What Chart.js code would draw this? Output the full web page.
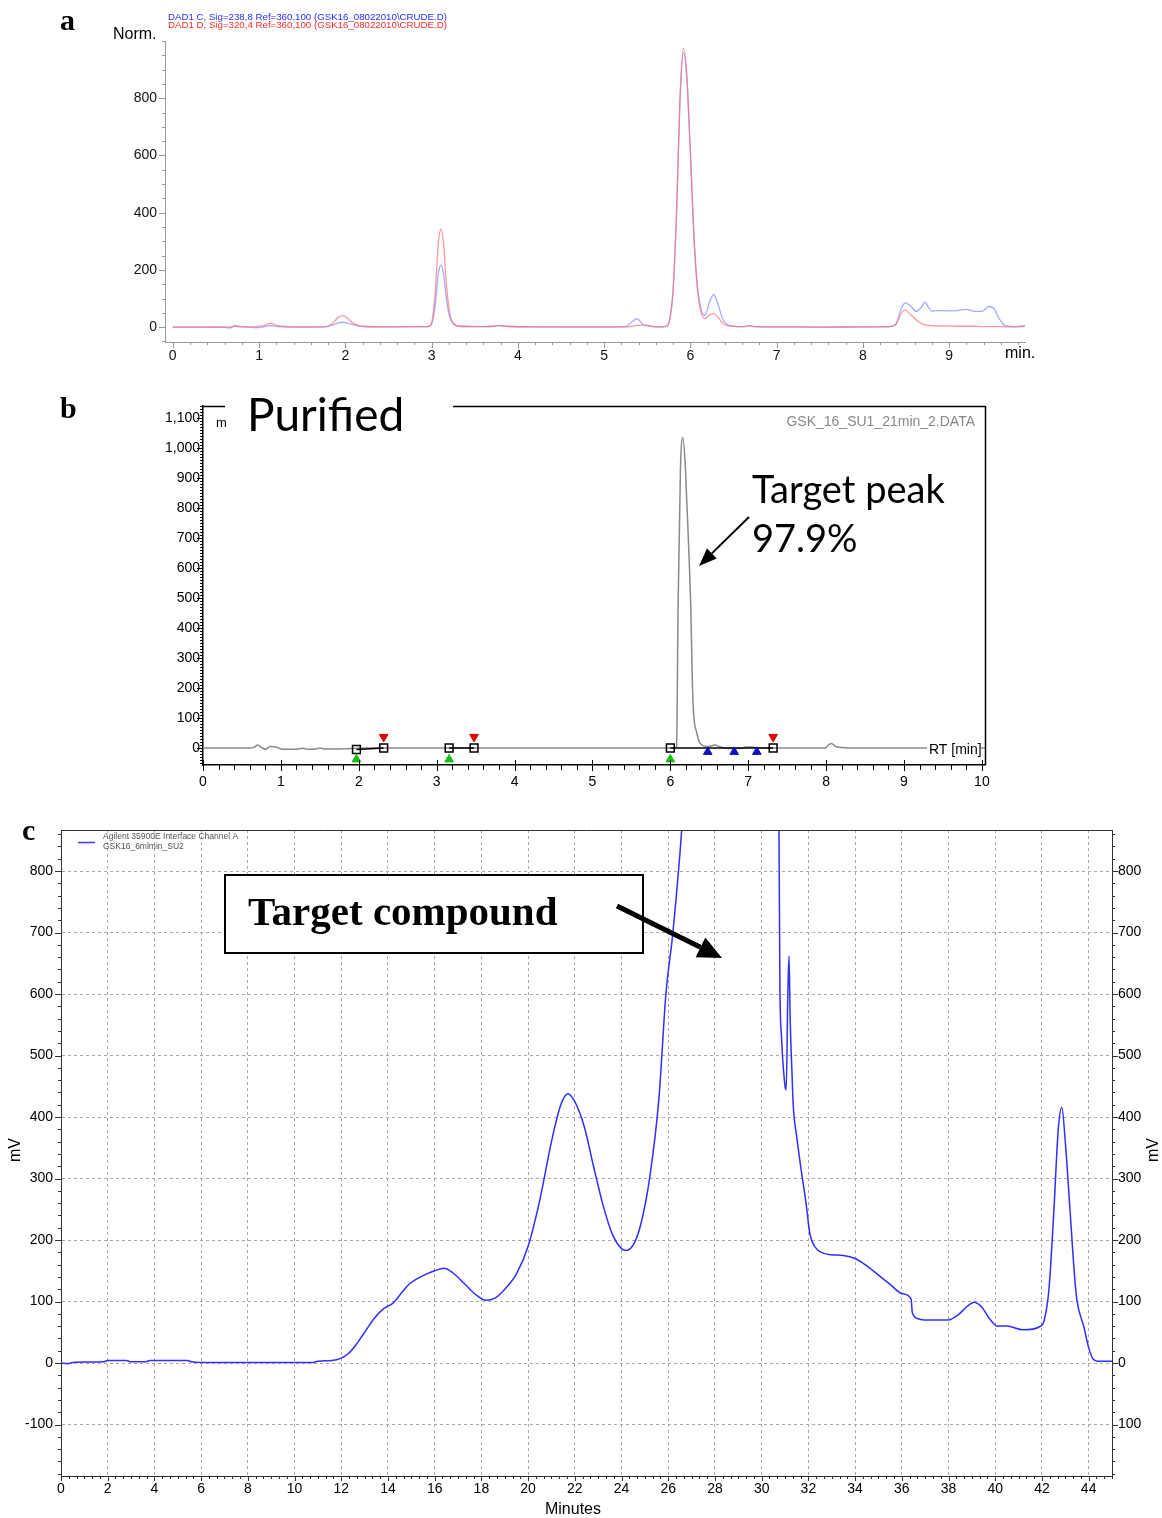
<!DOCTYPE html>
<html>
<head>
<meta charset="utf-8">
<title>Chromatograms</title>
<script src="https://cdn.jsdelivr.net/npm/chart.js@4.4.1/dist/chart.umd.min.js"></script>
<style>
  html, body { margin: 0; padding: 0; background: #fff; }
  body { width: 1162px; height: 1518px; position: relative; overflow: hidden; }
  canvas { position: absolute; left: 0; }
  #chA { top: 0; }
  #chB { top: 372px; }
  #chC { top: 800px; }
</style>
</head>
<body>
<canvas id="chA" width="1162" height="372"></canvas>
<canvas id="chB" width="1162" height="428"></canvas>
<canvas id="chC" width="1162" height="718"></canvas>
<script>
// ---- panel a: crude, two DAD signals (normalised) ----
const A_TIME = [0, 0.3, 0.6, 0.66, 0.72, 0.8, 0.95, 1.05, 1.13, 1.22,
  1.4, 1.75, 1.85, 1.92, 1.97, 2.03, 2.1, 2.2, 2.5, 2.96,
  3.0, 3.04, 3.08, 3.11, 3.14, 3.17, 3.21, 3.26, 3.32, 3.6,
  3.72, 3.78, 3.85, 4.2, 4.8, 5.25, 5.32, 5.38, 5.45, 5.52,
  5.62, 5.72, 5.76, 5.80, 5.84, 5.88, 5.92, 5.96, 6.00, 6.04,
  6.08, 6.12, 6.17, 6.22, 6.27, 6.32, 6.38, 6.45, 6.55, 6.63,
  6.68, 6.74, 7.0, 7.5, 8.0, 8.3, 8.38, 8.44, 8.49, 8.55,
  8.62, 8.68, 8.72, 8.76, 8.8, 8.85, 9.0, 9.1, 9.2, 9.3,
  9.38, 9.46, 9.52, 9.58, 9.65, 9.75, 9.88];
const A_RED = [0, 0, 1, 0, 3, 1, 1, 5, 13, 5,
  1, 1, 12, 35, 40, 30, 12, 3, 1, 2,
  15, 110, 300, 342, 290, 160, 50, 12, 3, 2,
  3, 6, 3, 1, 0, 1, 3, 6, 7, 4,
  1, 3, 25, 130, 400, 800, 975, 880, 620, 330,
  140, 55, 30, 42, 48, 35, 12, 4, 2, 2,
  5, 2, 1, 0, 1, 1, 8, 45, 60, 45,
  25, 12, 8, 6, 5, 4, 4, 3, 3, 3,
  2, 2, 2, 2, 1, 1, 3];
const A_BLUE = [0, 0, -1, -3, 5, 2, -2, 1, 5, 2,
  0, 1, 7, 15, 17, 14, 8, 2, 1, 2,
  10, 70, 190, 217, 185, 105, 35, 9, 3, 2,
  3, 5, 3, 1, 1, 2, 18, 30, 10, 5,
  1, 3, 24, 127, 392, 785, 960, 865, 610, 330,
  150, 70, 40, 85, 114, 80, 25, 6, 2, 2,
  5, 2, 1, 0, 1, 2, 10, 60, 85, 75,
  55, 70, 87, 70, 55, 58, 57, 58, 62, 55,
  55, 72, 65, 30, 5, 2, 5];
const A_XTICKS = [0, 1, 2, 3, 4, 5, 6, 7, 8, 9];
const A_YTICKS = [0, 200, 400, 600, 800];
const A_LEGEND = ['DAD1 C, Sig=238,8 Ref=360,100 (GSK16_08022010\\CRUDE.D)',
                  'DAD1 D, Sig=320,4 Ref=360,100 (GSK16_08022010\\CRUDE.D)'];

// ---- panel b: purified ----
const B_TIME = [0, 0.6, 0.66, 0.7, 0.75, 0.8, 0.86, 0.92, 0.97, 1.02,
  1.2, 1.28, 1.34, 1.45, 1.5, 1.56, 1.7, 1.9, 2.1, 3.0,
  4.0, 5.0, 6.0, 6.06, 6.08, 6.10, 6.13, 6.16, 6.19, 6.21,
  6.26, 6.29, 6.34, 6.42, 6.5, 6.57, 6.65, 6.75, 6.9, 6.97,
  7.05, 7.1, 7.5, 7.99, 8.03, 8.07, 8.12, 8.2, 8.4, 9.0,
  10.04];
const B_SIGNAL = [0, 0, 3, 10, 2, -4, 5, 4, 0, -4,
  -4, -1, -4, -3, 0, -3, -3, -2, 0, 0,
  0, 0, 0, 0, 5, 480, 930, 1035, 950, 830,
  490, 160, 50, 8, 5, 10, 3, -2, -2, 3,
  3, 0, 0, 0, 10, 15, 5, 2, 0, 0,
  0];
// integration baselines (start / end squares) and event markers
const B_START_X = [1.97, 3.16, 6.0];
const B_START_Y = [-5, 0, 0];
const B_END_X = [2.32, 3.48, 7.32];
const B_END_Y = [0, 0, 0];
const B_DROP_X = [6.48, 6.82, 7.11];
const B_XTICKS = [0, 1, 2, 3, 4, 5, 6, 7, 8, 9, 10];
const B_YTICKS = [0, 100, 200, 300, 400, 500, 600, 700, 800, 900, 1000, 1100];

// ---- panel c: prep run ----
const C_TIME = [0, 0.3, 0.5, 1.8, 2.0, 2.8, 3.0, 3.6, 3.8, 5.4,
  5.6, 6.0, 8.0, 10.0, 10.8, 11.0, 11.6, 12.0, 12.3, 12.6,
  13.0, 13.4, 13.8, 14.2, 14.6, 14.9, 15.5, 16.0, 16.4, 16.8,
  17.3, 17.8, 18.2, 18.6, 19.0, 19.5, 20.0, 20.5, 21.0, 21.4,
  21.7, 22.0, 22.4, 22.8, 23.2, 23.6, 24.0, 24.2, 24.5, 24.8,
  25.2, 25.6, 25.9, 26.2, 26.6, 27.0, 28.0, 29.0, 30.0, 30.5,
  30.74, 30.78, 30.85, 31.0, 31.05, 31.12, 31.17, 31.22, 31.3, 31.35,
  31.5, 31.68, 31.9, 32.06, 32.3, 32.6, 33.0, 33.5, 34.0, 34.5,
  35.0, 35.5, 36.0, 36.4, 36.45, 36.7, 37.0, 37.5, 38.0, 38.4,
  38.8, 39.1, 39.4, 39.8, 40.1, 40.5, 41.2, 41.9, 42.1, 42.3,
  42.5, 42.7, 42.85, 43.0, 43.2, 43.4, 43.5, 43.8, 44.0, 44.2,
  44.4, 45.0];
const C_MV = [0, -1, 1, 2, 4, 4, 2, 2, 4, 4,
  2, 1, 1, 1, 1, 3, 4, 8, 15, 28,
  50, 72, 88, 97, 115, 128, 142, 150, 154, 146,
  128, 110, 102, 106, 120, 145, 190, 265, 360, 420,
  438, 425, 385, 320, 258, 210, 186, 183, 192, 222,
  300, 430, 600, 700, 880, 1150, 1700, 1800, 1500, 1100,
  870, 618, 530, 450, 444, 600, 662, 560, 470, 420,
  368, 317, 260, 211, 188, 179, 176, 175, 170, 158,
  143, 128, 113, 104, 82, 72, 70, 70, 70, 78,
  92, 99, 92, 70, 60, 60, 54, 59, 70, 120,
  240, 380, 416, 360, 250, 140, 102, 58, 25, 6,
  3, 3];
const C_XTICKS = [0, 2, 4, 6, 8, 10, 12, 14, 16, 18, 20, 22, 24, 26, 28, 30, 32, 34, 36, 38, 40, 42, 44];
const C_YTICKS = [-100, 0, 100, 200, 300, 400, 500, 600, 700, 800];
const C_LEGEND = ['Agilent 35900E Interface Channel A', 'GSK16_6mlmin_SU2'];

const SANS = "'Liberation Sans', Arial, sans-serif";
const SERIF = "'Liberation Serif', 'Times New Roman', serif";
const CALI = "Lato, 'Open Sans', sans-serif";
Chart.defaults.font.family = SANS;

// helpers
function pts(xs, ys) { return xs.map((x, i) => ({ x, y: ys[i] })); }
function fixedTicks(vals) { return function (s) { s.ticks = vals.map(v => ({ value: v })); }; }
function steps(min, max, step) {
  const out = [];
  for (let i = Math.ceil(min / step - 1e-9); i * step <= max + 1e-9; i++) out.push(i * step);
  return out;
}
function marks(chart, id, vals, len, color, up) {
  const s = chart.scales[id], ctx = chart.ctx;
  ctx.save(); ctx.strokeStyle = color; ctx.lineWidth = 1; ctx.beginPath();
  vals.forEach(v => {
    if (v < s.min || v > s.max) return;
    const p = Math.round(s.getPixelForValue(v)) + 0.5;
    if (s.isHorizontal()) { ctx.moveTo(p, s.top - (up || 0)); ctx.lineTo(p, s.top + len); }
    else if (s.position === 'left') { ctx.moveTo(s.right + (up || 0), p); ctx.lineTo(s.right - len, p); }
    else { ctx.moveTo(s.left - (up || 0), p); ctx.lineTo(s.left + len, p); }
  });
  ctx.stroke(); ctx.restore();
}
function txt(ctx, s, x, y, font, color, align, base) {
  ctx.font = font; ctx.fillStyle = color || '#000';
  ctx.textAlign = align || 'left'; ctx.textBaseline = base || 'middle';
  ctx.fillText(s, x, y);
}
function arrow(ctx, x0, y0, x1, y1, lw, head, hw) {
  const a = Math.atan2(y1 - y0, x1 - x0);
  const bx = x1 - head * Math.cos(a), by = y1 - head * Math.sin(a);
  ctx.save(); ctx.strokeStyle = '#000'; ctx.fillStyle = '#000'; ctx.lineWidth = lw;
  ctx.beginPath(); ctx.moveTo(x0, y0); ctx.lineTo(bx, by); ctx.stroke();
  ctx.beginPath(); ctx.moveTo(x1, y1);
  ctx.lineTo(bx + hw * Math.sin(a), by - hw * Math.cos(a));
  ctx.lineTo(bx - hw * Math.sin(a), by + hw * Math.cos(a));
  ctx.closePath(); ctx.fill(); ctx.restore();
}
function line(ctx, x0, y0, x1, y1, color, lw) {
  ctx.save(); ctx.strokeStyle = color; ctx.lineWidth = lw || 1;
  ctx.beginPath(); ctx.moveTo(x0, y0); ctx.lineTo(x1, y1); ctx.stroke(); ctx.restore();
}
function tickFont(size) { return { family: SANS, size: size || 14 }; }
const noGrid = { display: false, drawTicks: false };
const trace = { pointRadius: 0, cubicInterpolationMode: 'monotone', fill: false };

// ========== A ==========
const panelA = {
  id: 'panelA',
  afterDraw(chart) {
    const ctx = chart.ctx;
    marks(chart, 'x', steps(-0.09, 9.88, 0.2), 3, '#999');
    marks(chart, 'x', A_XTICKS, 6, '#999');
    marks(chart, 'y', steps(-52, 1000, 50), 3, '#999');
    marks(chart, 'y', A_YTICKS, 6, '#999');
    txt(ctx, 'a', 60, 30, 'bold 30px ' + SERIF, '#000', 'left', 'alphabetic');
    txt(ctx, 'Norm.', 113, 35, '16px ' + SANS, '#000');
    txt(ctx, 'min.', 1005, 354, '16px ' + SANS, '#000');
    txt(ctx, A_LEGEND[0], 168, 17, '9.7px ' + SANS, '#2a2aff');
    txt(ctx, A_LEGEND[1], 168, 25.5, '9.7px ' + SANS, '#ff2a2a');
  }
};
new Chart(document.getElementById('chA'), {
  type: 'line',
  data: { datasets: [
    Object.assign({ label: 'DAD1 D', data: pts(A_TIME, A_RED), borderColor: 'rgba(255,110,120,0.7)', borderWidth: 1.3 }, trace),
    Object.assign({ label: 'DAD1 C', data: pts(A_TIME, A_BLUE), borderColor: 'rgba(120,125,255,0.65)', borderWidth: 1.3 }, trace)
  ]},
  options: {
    responsive: false, animation: false,
    layout: { padding: { left: 0, top: 41, right: 137, bottom: 0 } },
    plugins: { legend: { display: false }, tooltip: { enabled: false } },
    scales: {
      x: { type: 'linear', min: -0.09, max: 9.88, afterBuildTicks: fixedTicks(A_XTICKS), afterFit: s => { s.height = 30; },
           grid: noGrid, border: { display: true, color: '#999' },
           ticks: { font: tickFont(14), color: '#111', padding: 6, maxRotation: 0, autoSkip: false } },
      y: { type: 'linear', min: -52, max: 1000, afterBuildTicks: fixedTicks(A_YTICKS), afterFit: s => { s.width = 165; },
           grid: noGrid, border: { display: true, color: '#999' },
           ticks: { font: tickFont(14), color: '#111', padding: 8, autoSkip: false } }
    }
  },
  plugins: [panelA]
});

// ========== B ==========
const panelB = {
  id: 'panelB',
  afterDraw(chart) {
    const ctx = chart.ctx, a = chart.chartArea;
    marks(chart, 'x', steps(0, 10.04, 0.2), 5, '#000');
    marks(chart, 'x', B_XTICKS, 6, '#000', 5);
    marks(chart, 'y', steps(-50, 1140, 10), 3, '#000');
    marks(chart, 'y', B_YTICKS, 6, '#000');
    // frame: top with gap for the title, right side
    line(ctx, a.left, a.top + 0.5, 225, a.top + 0.5, '#000', 1.5);
    line(ctx, 453, a.top + 0.5, a.right, a.top + 0.5, '#000', 1.5);
    line(ctx, a.right + 0.5, a.top, a.right + 0.5, a.bottom, '#000', 1.5);
    txt(ctx, 'b', 60, 46, 'bold 30px ' + SERIF, '#000', 'left', 'alphabetic');
    txt(ctx, 'm', 216, 51, '13px ' + SANS, '#000');
    txt(ctx, 'Purified', 247, 59, '46px ' + CALI, '#000', 'left', 'alphabetic');
    txt(ctx, 'GSK_16_SU1_21min_2.DATA', 975, 50, '14px ' + SANS, '#888', 'right');
    txt(ctx, 'Target peak', 752, 131, '38px ' + CALI, '#000', 'left', 'alphabetic');
    txt(ctx, '97.9%', 752, 180, '38px ' + CALI, '#000', 'left', 'alphabetic');
    arrow(ctx, 749, 145, 699, 194, 2, 18, 7);
    ctx.fillStyle = '#fff'; ctx.fillRect(927, 369, 54, 18);
    txt(ctx, 'RT [min]', 929, 378, '14px ' + SANS, '#000');
  }
};
const bDatasets = [];
B_START_X.forEach((x, i) => {
  bDatasets.push({ data: [{ x, y: B_START_Y[i] }, { x: B_END_X[i], y: B_END_Y[i] }],
    borderColor: '#000', borderWidth: 1.5, pointStyle: 'rect', pointRadius: 5.5,
    pointBorderColor: '#000', pointBorderWidth: 1.5, pointBackgroundColor: 'rgba(0,0,0,0)', clip: false });
});
bDatasets.unshift(
  { data: B_END_X.map(x => ({ x, y: 37 })), showLine: false, pointStyle: 'triangle', rotation: 180,
    pointRadius: 5, pointBackgroundColor: '#e00000', pointBorderColor: '#e00000', clip: false },
  { data: B_START_X.map(x => ({ x, y: -38 })), showLine: false, pointStyle: 'triangle',
    pointRadius: 5, pointBackgroundColor: '#10c010', pointBorderColor: '#10c010', clip: false },
  { data: B_DROP_X.map(x => ({ x, y: -13 })), showLine: false, pointStyle: 'triangle',
    pointRadius: 5, pointBackgroundColor: '#1010c0', pointBorderColor: '#1010c0', clip: false }
);
bDatasets.push(Object.assign({ data: pts(B_TIME, B_SIGNAL), borderColor: '#8a8a8a', borderWidth: 1.5 }, trace));
new Chart(document.getElementById('chB'), {
  type: 'line',
  data: { datasets: bDatasets },
  options: {
    responsive: false, animation: false,
    layout: { padding: { left: 0, top: 34, right: 177, bottom: 0 } },
    plugins: { legend: { display: false }, tooltip: { enabled: false } },
    scales: {
      x: { type: 'linear', min: 0, max: 10.04, afterBuildTicks: fixedTicks(B_XTICKS), afterFit: s => { s.height = 35; },
           grid: noGrid, border: { display: true, color: '#000', width: 1.5 },
           ticks: { font: tickFont(14), color: '#000', padding: 9, maxRotation: 0, autoSkip: false } },
      y: { type: 'linear', min: -56.7, max: 1140, afterBuildTicks: fixedTicks(B_YTICKS), afterFit: s => { s.width = 203; },
           grid: noGrid, border: { display: true, color: '#000', width: 1.5 },
           ticks: { font: tickFont(14), color: '#000', padding: 3, autoSkip: false,
                    callback: v => v.toLocaleString('en-US') } }
    }
  },
  plugins: [panelB]
});

// ========== C ==========
const panelC = {
  id: 'panelC',
  afterDraw(chart) {
    const ctx = chart.ctx, a = chart.chartArea;
    marks(chart, 'x', steps(0, 45, 1 / 3), 3, '#333');
    marks(chart, 'x', C_XTICKS, 5, '#333');
    marks(chart, 'y', steps(-180, 860, 20), 3, '#333');
    marks(chart, 'y', C_YTICKS, 6, '#333');
    marks(chart, 'y2', steps(-180, 860, 20), 3, '#333');
    marks(chart, 'y2', C_YTICKS, 6, '#333');
    line(ctx, a.left, a.top + 0.5, a.right, a.top + 0.5, '#333', 1);
    txt(ctx, 'c', 22, 40, 'bold 30px ' + SERIF, '#000', 'left', 'alphabetic');
    line(ctx, 78, 42.5, 95, 42.5, '#3a3aff', 1.5);
    txt(ctx, C_LEGEND[0], 103, 37, '8.5px ' + SANS, '#555');
    txt(ctx, C_LEGEND[1], 103, 47, '8.5px ' + SANS, '#555');
    // annotation box
    ctx.save(); ctx.fillStyle = '#fff'; ctx.fillRect(225, 75, 418, 78);
    ctx.strokeStyle = '#000'; ctx.lineWidth = 2; ctx.strokeRect(225, 75, 418, 78); ctx.restore();
    txt(ctx, 'Target compound', 248, 114, 'bold 41px ' + SERIF, '#000');
    arrow(ctx, 617, 106, 722, 158, 5, 24, 11);
    txt(ctx, 'Minutes', 573, 710, '16px ' + SANS, '#000', 'center');
    ctx.save(); ctx.translate(16, 350); ctx.rotate(-Math.PI / 2);
    txt(ctx, 'mV', 0, 0, '16px ' + SANS, '#000', 'center'); ctx.restore();
    ctx.save(); ctx.translate(1154, 350); ctx.rotate(-Math.PI / 2);
    txt(ctx, 'mV', 0, 0, '16px ' + SANS, '#000', 'center'); ctx.restore();
  }
};
new Chart(document.getElementById('chC'), {
  type: 'line',
  data: { datasets: [
    Object.assign({ data: pts(C_TIME, C_MV), borderColor: '#2f2fff', borderWidth: 1.5 }, trace)
  ]},
  options: {
    responsive: false, animation: false,
    layout: { padding: { left: 0, top: 30, right: 0, bottom: 0 } },
    plugins: { legend: { display: false }, tooltip: { enabled: false } },
    scales: {
      x: { type: 'linear', min: 0, max: 45, afterBuildTicks: fixedTicks(C_XTICKS), afterFit: s => { s.height = 42; },
           grid: { color: '#aaa', lineWidth: 1, drawTicks: false }, border: { display: true, color: '#333', dash: [3, 3] },
           ticks: { font: tickFont(14), color: '#000', padding: 5, maxRotation: 0, autoSkip: false } },
      y: { type: 'linear', min: -183.7, max: 866.7, afterBuildTicks: fixedTicks(C_YTICKS), afterFit: s => { s.width = 61; },
           grid: { color: '#aaa', lineWidth: 1, drawTicks: false }, border: { display: true, color: '#333', dash: [3, 3] },
           ticks: { font: tickFont(14), color: '#000', padding: 8, autoSkip: false } },
      y2: { type: 'linear', position: 'right', min: -183.7, max: 866.7, afterBuildTicks: fixedTicks(C_YTICKS),
            afterFit: s => { s.width = 50; },
            grid: noGrid, border: { display: true, color: '#333' },
            ticks: { font: tickFont(14), color: '#000', padding: 6, autoSkip: false,
                     callback: v => String(Math.abs(v)) } }
    }
  },
  plugins: [panelC]
});
</script>
</body>
</html>
